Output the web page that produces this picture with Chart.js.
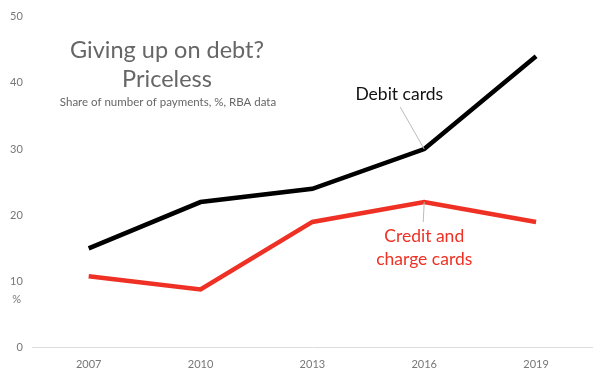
<!DOCTYPE html>
<html><head><meta charset="utf-8">
<script src="https://cdn.jsdelivr.net/npm/chart.js@4/dist/chart.umd.min.js"></script>
<style>html,body{margin:0;padding:0;background:#fff;}#wrap{width:600px;height:381px;}</style>
</head><body><div id="wrap"><canvas id="c" width="600" height="381"></canvas></div>
<script>
const years = ['2007','2010','2013','2016','2019'];
const debit = [15, 22, 24, 30, 44];
const credit = [10.8, 8.8, 19, 22, 19];
const yTicks = [0, 10, 20, 30, 40, 50];

const FONT = 'Lato, "Open Sans", sans-serif';

const annot = {
  id: 'annot',
  afterDatasetsDraw(chart) {
    const ctx = chart.ctx;
    const xs = chart.scales.x, ys = chart.scales.y;
    ctx.save();
    // title
    ctx.fillStyle = '#666';
    ctx.textAlign = 'center';
    ctx.textBaseline = 'middle';
    ctx.font = '23.5px ' + FONT;
    ctx.fillText('Giving up on debt?', 167, 50);
    ctx.fillText('Priceless', 167, 79);
    ctx.font = '11.5px ' + FONT;
    ctx.fillText('Share of number of payments, %, RBA data', 168, 102);
    // % unit
    ctx.fillStyle = '#777';
    ctx.font = '11px ' + FONT;
    ctx.textAlign = 'right';
    ctx.fillText('%', 21, ys.getPixelForValue(10) + 18);
    // leader lines
    const px = xs.getPixelForValue(3);
    ctx.strokeStyle = '#bbb';
    ctx.lineWidth = 1;
    ctx.beginPath();
    ctx.moveTo(px - 24, ys.getPixelForValue(debit[3]) - 42);
    ctx.lineTo(px, ys.getPixelForValue(debit[3]));
    ctx.moveTo(px, ys.getPixelForValue(credit[3]));
    ctx.lineTo(px - 1, ys.getPixelForValue(credit[3]) + 20);
    ctx.stroke();
    // labels
    ctx.textAlign = 'center';
    ctx.fillStyle = '#111';
    ctx.font = '17.5px ' + FONT;
    ctx.fillText('Debit cards', px - 25, ys.getPixelForValue(debit[3]) - 55);
    ctx.fillStyle = '#ee3124';
    ctx.fillText('Credit and', px, ys.getPixelForValue(credit[3]) + 34);
    ctx.fillText('charge cards', px, ys.getPixelForValue(credit[3]) + 57);
    ctx.restore();
  }
};

new Chart(document.getElementById('c'), {
  type: 'line',
  data: {
    labels: years,
    datasets: [
      { label: 'Debit cards', data: debit, borderColor: '#000', borderWidth: 4.5, pointRadius: 0, tension: 0, borderJoinStyle: 'miter', borderCapStyle: 'butt' },
      { label: 'Credit and charge cards', data: credit, borderColor: '#ee3124', borderWidth: 4.5, pointRadius: 0, tension: 0, borderJoinStyle: 'miter', borderCapStyle: 'butt' }
    ]
  },
  options: {
    responsive: false,
    animation: false,
    devicePixelRatio: 1,
    layout: { padding: { top: -3, right: 8, left: 0, bottom: 0 } },
    plugins: { legend: { display: false }, tooltip: { enabled: false } },
    scales: {
      x: {
        offset: true,
        grid: { display: false, drawTicks: false },
        border: { display: true, color: '#ddd', width: 1 },
        ticks: { color: '#777', font: { family: FONT, size: 11 }, padding: 10 }
      },
      y: {
        min: 0, max: 50,
        afterBuildTicks(scale) { scale.ticks = yTicks.map(v => ({ value: v })); },
        grid: { display: false, drawTicks: false },
        border: { display: false },
        ticks: { color: '#777', font: { family: FONT, size: 11 }, padding: 10 }
      }
    }
  },
  plugins: [annot]
});
</script></body></html>
